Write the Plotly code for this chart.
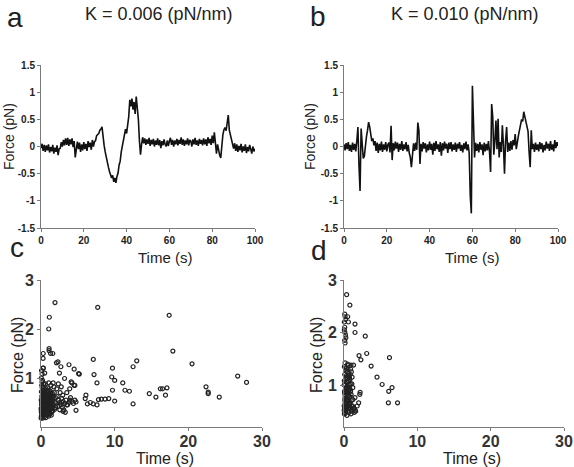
import plotly.graph_objects as go

# ---------------- data ----------------
# panel a: force trace, K = 0.006 pN/nm (sampled every 0.5 s from 0 to 100 s)
force_a = [
    -0.03, 0.05, -0.08, 0.03, -0.10, 0.02, -0.07, 0.04, -0.11, -0.01,
    -0.09, 0.03, -0.13, -0.02, -0.10, 0.02, -0.16, -0.04, -0.03, 0.08,
    0.00, 0.12, 0.02, 0.15, 0.03, 0.16, 0.01, 0.13, 0.04, 0.15,
    -0.01, 0.10, -0.20, -0.03, 0.09, -0.05, 0.07, -0.10, 0.04, -0.07,
    0.08, -0.05, 0.05, -0.08, 0.10, -0.01, 0.07, -0.06, 0.12, 0.00,
    0.09, 0.11, 0.20, 0.22, 0.24, 0.30, 0.32, 0.36, 0.15, 0.02,
    -0.10, -0.22, -0.30, -0.38, -0.46, -0.52, -0.58, -0.53, -0.65, -0.58,
    -0.67, -0.55, -0.49, -0.34, -0.27, -0.10, 0.00, 0.17, 0.20, 0.32,
    0.24, 0.40, 0.55, 0.86, 0.74, 0.88, 0.68, 0.82, 0.60, 0.92,
    0.76, 0.50, 0.10, -0.15, 0.04, 0.17, 0.06, 0.15, 0.03, 0.13,
    0.05, 0.16, 0.01, 0.12, 0.04, 0.14, 0.00, 0.11, 0.03, 0.15,
    0.02, 0.12, -0.03, 0.10, 0.02, 0.13, 0.04, 0.00, 0.11, 0.01,
    0.10, 0.16, 0.03, 0.12, 0.00, 0.11, 0.04, 0.14, 0.02, 0.12,
    0.05, 0.17, 0.03, 0.13, 0.01, 0.11, 0.04, 0.15, 0.02, 0.12,
    0.10, 0.00, 0.13, 0.04, 0.16, 0.03, 0.11, 0.01, 0.14, 0.05,
    0.12, 0.02, 0.15, 0.04, 0.13, 0.01, 0.17, 0.06, 0.14, 0.03,
    0.20, 0.06, 0.26, 0.02, -0.13, 0.04, -0.09, -0.16, -0.21, 0.06,
    0.22, 0.31, 0.35, 0.29, 0.42, 0.58, 0.30, 0.20, 0.12, 0.05,
    -0.04, 0.06, -0.08, 0.04, -0.10, 0.01, -0.07, 0.05, -0.11, 0.00,
    -0.08, 0.04, -0.12, -0.01, -0.09, 0.03, -0.07, -0.13, 0.00, -0.09,
    -0.04,
]

# panel b: force trace, K = 0.010 pN/nm (sampled every 0.5 s from 0 to 100 s)
force_b = [
    0.04, -0.07, 0.06, -0.05, 0.08, -0.08, 0.03, -0.10, 0.07, -0.06,
    0.05, -0.09, 0.10, 0.36, -0.35, -0.82, 0.33, -0.05, -0.22, -0.18,
    0.05, 0.18, 0.30, 0.45, 0.36, 0.24, 0.10, 0.15, 0.02, 0.10,
    -0.08, 0.07, -0.12, 0.05, -0.07, 0.09, -0.10, 0.04, -0.06, 0.08,
    -0.09, 0.03, 0.07, -0.11, 0.38, -0.25, 0.06, -0.07, 0.09, -0.04,
    0.07, -0.10, 0.05, -0.06, 0.10, -0.08, 0.04, -0.05, 0.08, -0.09,
    0.03, -0.12, -0.20, -0.38, -0.05, 0.06, -0.08, 0.07, -0.06, 0.44,
    0.30, -0.32, 0.05, -0.09, 0.08, -0.04, 0.06, -0.11, 0.04, -0.07,
    0.09, -0.06, 0.05, -0.15, 0.07, -0.08, 0.10, -0.05, 0.04, -0.10,
    0.08, -0.17, 0.06, -0.07, 0.09, -0.04, 0.05, -0.12, 0.07, -0.05,
    0.08, -0.09, 0.04, -0.06, 0.07, -0.10, 0.05, -0.04, 0.08, -0.08,
    0.03, -0.11, 0.06, -0.05, 0.09, -0.07, 0.04, -0.12, -0.90, -1.23,
    1.12, 0.42, -0.20, 0.07, -0.08, 0.05, -0.11, 0.08, -0.06, 0.04,
    -0.16, 0.07, -0.09, 0.05, -0.07, 0.10, -0.10, -0.47, 0.78, 0.54,
    -0.15, 0.10, 0.48, -0.05, 0.51, -0.20, 0.08, -0.10, 0.39, 0.02,
    -0.50, 0.10, 0.36, -0.10, 0.07, -0.08, 0.10, -0.06, 0.12, 0.02,
    0.23, -0.05, 0.12, 0.20, 0.30, 0.38, 0.50, 0.46, 0.64, 0.55,
    0.47, 0.35, 0.28, -0.10, -0.38, 0.30, -0.05, 0.05, -0.10, 0.07,
    -0.06, 0.04, -0.09, 0.08, -0.05, 0.06, -0.11, 0.03, -0.07, 0.09,
    -0.04, 0.05, -0.08, 0.10, -0.06, 0.04, -0.09, 0.12, -0.03, 0.08,
    0.01,
]
sample_step = 0.5
time_a = [i * sample_step for i in range(len(force_a))]
time_b = [i * sample_step for i in range(len(force_b))]

# panel c: dwell time vs force, K = 0.006
time_c = [
    0.05, 0.10, 0.15, 0.20, 0.25, 0.30, 0.35, 0.40, 0.45, 0.50, 0.55, 0.60, 0.65, 0.70, 0.75,
    0.80, 0.85, 0.90, 0.95, 1.00, 0.08, 0.12, 0.18, 0.22, 0.28, 0.33, 0.38, 0.42, 0.48, 0.52,
    0.58, 0.62, 0.68, 0.72, 0.78, 0.82, 0.88, 0.92, 0.98, 0.03, 0.06, 0.10, 0.14, 0.05, 0.20,
    0.26, 0.35, 0.15, 0.08, 0.30, 0.02, 0.04, 0.12, 0.25, 0.45, 0.65, 0.85, 1.05, 1.2, 1.4,
    1.1, 1.2, 1.3, 1.4, 1.5, 1.6, 1.7, 1.8, 1.9, 2.0, 1.15, 1.35, 1.55, 1.75, 1.95,
    1.05, 1.25, 1.45, 1.65, 1.85, 1.1, 1.3, 1.5, 0.6, 0.9,
    0.02, 0.07, 0.13, 0.17, 0.23, 0.27, 0.32, 0.37, 0.43, 0.47, 0.53, 0.57, 0.63, 0.67, 0.73,
    0.77, 0.83, 0.87, 0.93, 0.97, 1.03, 1.08, 1.13, 1.18, 1.23, 1.28, 1.33, 1.38, 1.43, 1.48,
    0.04, 0.11, 0.19, 0.24, 0.31, 0.39, 0.46, 0.54, 0.61, 0.69, 0.76, 0.84, 0.91, 0.99, 1.06,
    1.14, 1.21, 1.29, 1.36, 1.44, 1.52, 1.58, 0.16, 0.34, 0.56, 0.74, 0.96, 1.16, 1.34, 1.56,
    2.1, 2.2, 2.3, 2.4, 2.5, 2.6, 2.7, 2.8, 2.9, 3.0, 2.15, 2.35, 2.55, 2.75, 2.95,
    3.2, 3.4, 3.6, 3.8, 4.0, 4.2, 4.4, 3.5, 3.9, 4.6, 3.3,
    1.9, 1.13, 1.05, 7.7, 17.4, 17.9, 20.5, 26.7, 27.9, 22.4, 22.7, 22.7, 24.2, 17.1,
    16.5, 16.2, 16.9, 15.6, 14.7, 13.0, 12.5, 12.5, 12.0, 11.1, 11.4, 10.0, 9.6, 9.7,
    10.0, 9.7, 9.2, 8.7, 8.2, 7.8, 7.1, 7.2, 7.6, 7.1, 7.6, 6.7, 6.1, 6.0, 6.3,
    5.2, 4.5, 3.8, 4.6, 4.2, 4.75, 4.75, 3.9, 3.5, 2.8, 3.0, 2.7, 2.1, 2.5, 1.6,
    1.1, 0.3, 0.28, 0.3, 0.5, 1.1, 1.3, 2.3, 3.2, 4.1, 4.5, 5.1, 3.1,
]
force_c = [
    0.22, 0.28, 0.35, 0.42, 0.30, 0.50, 0.25, 0.38, 0.60, 0.33, 0.45, 0.27, 0.55, 0.40, 0.32,
    0.65, 0.48, 0.36, 0.58, 0.42, 0.45, 0.62, 0.52, 0.70, 0.58, 0.75, 0.66, 0.48, 0.72, 0.56,
    0.68, 0.50, 0.78, 0.60, 0.52, 0.38, 0.70, 0.45, 0.30, 0.55, 0.72, 0.85, 0.92, 1.00, 0.95,
    0.82, 0.88, 1.08, 1.15, 1.20, 0.18, 0.35, 0.20, 0.18, 0.21, 0.19, 0.24, 0.22, 0.26, 0.24,
    0.35, 0.50, 0.42, 0.62, 0.38, 0.55, 0.45, 0.70, 0.50, 0.40, 0.75, 0.85, 0.68, 0.82, 0.60,
    0.90, 0.28, 0.32, 0.90, 0.36, 0.60, 0.68, 0.58, 0.88, 0.80,
    0.38, 0.52, 0.26, 0.64, 0.47, 0.33, 0.61, 0.44, 0.29, 0.67, 0.41, 0.53, 0.31, 0.63, 0.46,
    0.27, 0.57, 0.43, 0.34, 0.62, 0.51, 0.39, 0.66, 0.29, 0.47, 0.58, 0.36, 0.53, 0.43, 0.31,
    0.31, 0.48, 0.59, 0.36, 0.44, 0.55, 0.28, 0.64, 0.40, 0.35, 0.56, 0.27, 0.63, 0.51, 0.44,
    0.37, 0.58, 0.49, 0.68, 0.41, 0.46, 0.33, 0.80, 0.70, 0.76, 0.72, 0.74, 0.65, 0.72, 0.62,
    0.48, 0.62, 0.42, 0.55, 0.50, 0.70, 0.45, 0.58, 0.40, 0.52, 0.78, 0.88, 0.35, 0.82, 0.65,
    0.48, 0.55, 0.45, 0.50, 0.60, 0.52, 0.48, 0.70, 0.78, 0.55, 0.30,
    2.54, 2.24, 2.00, 2.44, 2.28, 1.55, 1.29, 1.04, 0.91, 0.82, 0.71, 0.68, 0.61, 0.80,
    0.78, 0.78, 0.65, 0.61, 0.68, 1.35, 1.23, 0.47, 0.73, 0.90, 0.75, 0.95, 1.02, 1.20,
    0.53, 0.75, 0.58, 0.57, 0.57, 0.56, 1.38, 1.07, 0.90, 0.47, 0.45, 0.50, 0.65, 0.58, 0.47,
    1.08, 1.18, 1.27, 0.85, 0.90, 0.51, 0.34, 0.55, 0.45, 0.50, 0.32, 1.23, 1.31, 1.10, 1.50,
    1.60, 1.50, 1.40, 1.20, 1.10, 1.56, 1.50, 1.33, 0.99, 0.92, 0.85, 1.09, 0.35,
]

# panel d: dwell time vs force, K = 0.010
time_d = [
    0.05, 0.10, 0.15, 0.20, 0.25, 0.30, 0.35, 0.40, 0.45, 0.50, 0.55, 0.60, 0.65, 0.70, 0.75,
    0.80, 0.85, 0.90, 0.05, 0.10, 0.15, 0.20, 0.25, 0.30, 0.35, 0.40, 0.45, 0.50, 0.55, 0.60,
    0.65, 0.70, 0.75, 0.80, 0.85, 0.90, 0.95, 1.00, 1.05, 1.10, 1.20, 1.30, 1.40, 1.50, 1.60,
    1.10, 0.95, 0.15, 0.08, 0.12, 0.02, 0.02, 0.30, 0.60, 1.00, 0.70, 0.40, 0.18, 0.50, 1.20,
    0.03, 0.12, 0.22, 0.32, 0.42, 0.52, 0.62, 0.72, 0.82, 0.07, 0.17, 0.27, 0.37, 0.47, 0.57,
    0.67, 0.77, 0.87, 0.04, 0.14, 0.24, 0.34, 0.44, 0.54, 0.64, 0.74, 0.84, 0.97, 1.07, 1.17,
    0.10, 0.15, 0.20, 0.05, 0.10, 0.05, 0.12, 0.20, 0.10, 0.25, 0.15, 0.50, 0.60,
    0.36, 0.80, 1.50, 1.50, 2.90, 3.10, 2.05, 2.30, 6.20, 3.70, 1.30, 4.50, 5.20, 6.55,
    6.10, 2.20, 2.15, 6.05, 7.30, 2.00, 1.80, 1.50, 1.35,
]
force_d = [
    0.45, 0.55, 0.65, 0.75, 0.85, 0.95, 1.05, 1.15, 1.25, 0.50, 0.60, 0.70, 0.80, 0.90, 1.00,
    1.10, 1.20, 1.30, 1.35, 1.20, 1.00, 0.90, 0.50, 0.62, 0.72, 0.42, 0.58, 0.82, 0.95, 1.08,
    1.22, 0.48, 0.66, 0.78, 0.55, 0.88, 0.45, 0.70, 0.60, 0.50, 0.95, 0.55, 0.48, 0.52, 0.50,
    1.15, 1.38, 1.42, 0.85, 0.70, 0.60, 1.00, 1.32, 1.38, 1.25, 0.58, 0.88, 0.48, 1.40, 0.72,
    0.52, 0.74, 1.12, 0.58, 0.98, 0.68, 1.18, 0.56, 0.92, 0.88, 0.46, 1.28, 0.64, 1.06, 0.78,
    1.16, 0.62, 1.02, 1.08, 0.80, 0.53, 1.18, 0.72, 1.30, 0.92, 1.14, 0.64, 0.82, 1.02, 0.60,
    2.35, 2.30, 2.25, 2.20, 2.10, 2.05, 2.00, 1.95, 1.85, 1.90, 1.80, 2.30, 2.20,
    2.72, 2.52, 2.16, 2.00, 1.93, 1.60, 1.56, 1.48, 1.52, 1.36, 1.38, 1.15, 1.01, 0.95,
    0.88, 0.86, 0.82, 0.66, 0.66, 0.66, 0.60, 0.76, 0.56,
]

x_ticks_top = [0, 20, 40, 60, 80, 100]
y_ticks_top = [-1.5, -1, -0.5, 0, 0.5, 1, 1.5]
y_ticklabels_top = ["-1.5", "-1", "-0.5", "0", "0.5", "1", "1.5"]
x_ticks_bottom = [0, 10, 20, 30]
y_ticks_bottom = [1, 2, 3]

# ---------------- figure ----------------
W, H = 574, 467
FONT = "Liberation Sans, Arial, Helvetica, sans-serif"


def px(x):
    return x / W


def py(y):
    return 1 - y / H


fig = go.Figure()
line_style = dict(color="#111111", width=1.6)
marker_style = dict(symbol="circle-open", size=4, color="#222222", line=dict(width=1.2, color="#222222"))

fig.add_trace(go.Scatter(x=time_a, y=force_a, mode="lines", line=line_style, xaxis="x", yaxis="y", hoverinfo="skip"))
fig.add_trace(go.Scatter(x=time_b, y=force_b, mode="lines", line=line_style, xaxis="x2", yaxis="y2", hoverinfo="skip"))
fig.add_trace(go.Scatter(x=time_c, y=force_c, mode="markers", marker=marker_style, xaxis="x3", yaxis="y3", cliponaxis=False, hoverinfo="skip"))
fig.add_trace(go.Scatter(x=time_d, y=force_d, mode="markers", marker=marker_style, xaxis="x4", yaxis="y4", cliponaxis=False, hoverinfo="skip"))

axis_common = dict(showline=True, linecolor="#7a7a7a", linewidth=1, ticks="outside", ticklen=3,
                   tickcolor="#7a7a7a", showgrid=False, zeroline=False, fixedrange=True,
                   automargin=False, ticklabeloverflow="allow")
top_font = dict(family=FONT, size=10, color="#222222", weight="bold")
bot_font = dict(family=FONT, size=16, color="#333333", weight="bold")

top_y_dom = [py(228), py(65)]
bot_y_dom = [py(427), py(280)]

fig.update_layout(
    width=W, height=H, margin=dict(l=0, r=0, t=0, b=0, autoexpand=False),
    paper_bgcolor="white", plot_bgcolor="white", showlegend=False,
    xaxis=dict(axis_common, domain=[px(41), px(255)], range=[0, 100], tickvals=x_ticks_top, tickfont=top_font, anchor="y"),
    yaxis=dict(axis_common, domain=top_y_dom, range=[-1.5, 1.5], tickvals=y_ticks_top, ticktext=y_ticklabels_top, tickfont=top_font, anchor="x"),
    xaxis2=dict(axis_common, domain=[px(344), px(558)], range=[0, 100], tickvals=x_ticks_top, tickfont=top_font, anchor="y2"),
    yaxis2=dict(axis_common, domain=top_y_dom, range=[-1.5, 1.5], tickvals=y_ticks_top, ticktext=y_ticklabels_top, tickfont=top_font, anchor="x2"),
    xaxis3=dict(axis_common, domain=[px(41), px(262)], range=[0, 30], tickvals=x_ticks_bottom, tickfont=bot_font, anchor="y3", ticklabelstandoff=-3),
    yaxis3=dict(axis_common, domain=bot_y_dom, range=[0, 3], tickvals=y_ticks_bottom, tickfont=bot_font, anchor="x3"),
    xaxis4=dict(axis_common, domain=[px(344), px(564)], range=[0, 30], tickvals=x_ticks_bottom, tickfont=bot_font, anchor="y4", ticklabelstandoff=-3),
    yaxis4=dict(axis_common, domain=bot_y_dom, range=[0.2, 3], tickvals=y_ticks_bottom, tickfont=bot_font, anchor="x4"),
)


def note(text, x, y, size, angle=0, xanchor="center", yanchor="middle", color="#222222"):
    fig.add_annotation(text=text, x=px(x), y=py(y), xref="paper", yref="paper", showarrow=False,
                       xanchor=xanchor, yanchor=yanchor, textangle=angle,
                       font=dict(family=FONT, size=size, color=color))


note("K = 0.006 (pN/nm)", 159, 14, 18)
note("K = 0.010 (pN/nm)", 465, 14, 18)
note("a", 15, 18, 28)
note("b", 318, 16, 28)
note("c", 17, 247, 28)
note("d", 319, 251, 28)
note("Time (s)", 165, 257, 15)
note("Time (s)", 472, 257, 15)
note("Time (s)", 165, 458, 16)
note("Time (s)", 472, 458, 16)
note("Force (pN)", 9, 137, 14, angle=-90)
note("Force (pN)", 310, 137, 14, angle=-90)
note("Force (pN)", 17, 355, 16, angle=-90)
note("Force (pN)", 316, 355, 16, angle=-90)

fig.write_html(
    "out.html",
    config={"displayModeBar": False, "staticPlot": True},
    post_script="document.body.style.margin='0';document.body.style.padding='0';document.body.style.overflow='hidden';",
)
